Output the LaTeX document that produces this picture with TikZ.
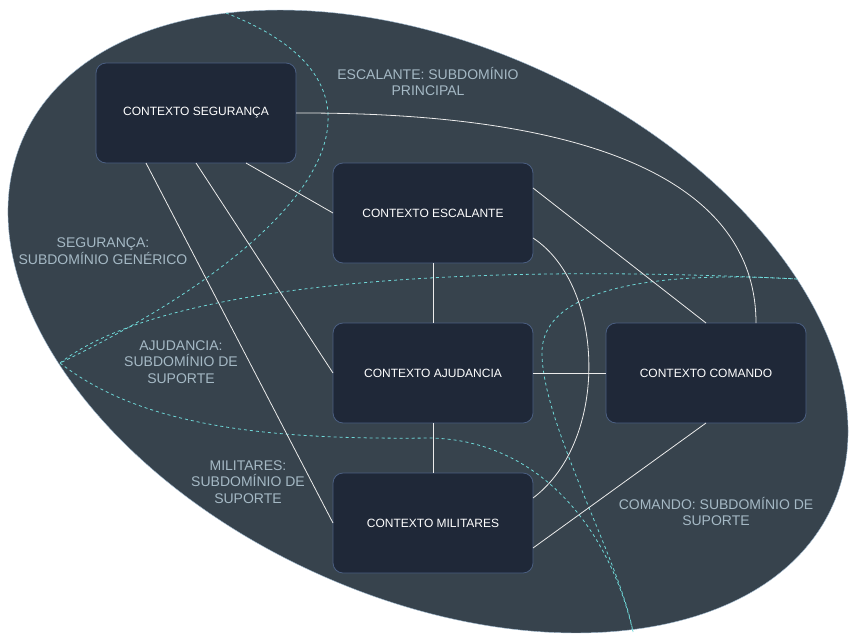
\documentclass[tikz,border=0pt]{standalone}
\usepackage{fontspec}
\setmainfont{Liberation Sans}
\definecolor{ellfill}{HTML}{37434D}
\definecolor{elledge}{HTML}{9FB9CF}
\definecolor{boxfill}{HTML}{1F2838}
\definecolor{boxedge}{HTML}{4B5F82}
\definecolor{dashcol}{HTML}{6FD8D8}
\definecolor{labcol}{HTML}{A5B9C5}
\begin{document}
\begin{tikzpicture}[x=1pt,y=-1pt,
  ctx/.style={draw=boxedge, line width=0.8pt, fill=boxfill, rounded corners=10pt,
    minimum width=200pt, minimum height=100pt, inner sep=0pt, outer sep=0pt,
    text=white, font=\fontsize{12}{14}\selectfont},
  lab/.style={text=labcol, align=center, inner sep=0pt, font=\fontsize{14}{16.5}\selectfont},
  conn/.style={draw=white!92!black, line width=0.8pt},
  bound/.style={draw=dashcol, line width=0.8pt, dash pattern=on 3pt off 3pt}]
\useasboundingbox (0,0) rectangle (858,643);
% big region
\fill[ellfill, draw=elledge, line width=0.4pt, rotate around={-24.67:(428,321.5)}]
  (428,321.5) ellipse [x radius=444.5pt, y radius=275.3pt];
% subdomain boundaries
\coordinate (a0) at (226,13);
\coordinate (lp) at (60,363);
\coordinate (rp) at (797,279);
\coordinate (bp) at (633,632);
\draw[bound] (a0) .. controls (435,95) and (295,250) .. (lp);
\draw[bound] (lp) .. controls (160,285) and (450,262) .. (rp);
\draw[bound] (lp) .. controls (140,425) and (260,440) .. (430,438)
  .. controls (540,440) and (610,530) .. (bp);
\draw[bound] (rp) .. controls (650,270) and (545,290) .. (542,350)
  .. controls (540,420) and (620,560) .. (bp);
% nodes
\node[ctx] (seg) at (196,113) {CONTEXTO SEGURANÇA};
\node[ctx] (esc) at (433,213) {CONTEXTO ESCALANTE};
\node[ctx] (aju) at (433,373) {CONTEXTO AJUDANCIA};
\node[ctx] (mil) at (433,523) {CONTEXTO MILITARES};
\node[ctx] (com) at (706,373) {CONTEXTO COMANDO};
% connectors
\draw[conn] (seg.east) .. controls (620,112) and (756,195) .. ([xshift=50pt]com.north);
\draw[conn] ([xshift=50pt]seg.south) -- (esc.west);
\draw[conn] (seg.south) -- (aju.west);
\draw[conn] ([xshift=-50pt]seg.south) -- (mil.west);
\draw[conn] ([yshift=25pt]esc.east) -- (com.north);
\draw[conn] ([yshift=-25pt]esc.east) .. controls (605,285) and (610,440) .. ([yshift=25pt]mil.east);
\draw[conn] (esc.south) -- (aju.north);
\draw[conn] (aju.east) -- (com.west);
\draw[conn] (aju.south) -- (mil.north);
\draw[conn] (com.south) -- ([yshift=-25pt]mil.east);
% labels
\node[lab] (lesc) at (428,81.5) {ESCALANTE: SUBDOMÍNIO\\PRINCIPAL};
\node[lab] (lseg) at (103,251) {SEGURANÇA:\\SUBDOMÍNIO GENÉRICO};
\node[lab] (laju) at (181,362) {AJUDANCIA:\\SUBDOMÍNIO DE\\SUPORTE};
\node[lab] (lmil) at (248,482) {MILITARES:\\SUBDOMÍNIO DE\\SUPORTE};
\node[lab] (lcom) at (716,511.5) {COMANDO: SUBDOMÍNIO DE\\SUPORTE};
\end{tikzpicture}
\end{document}
